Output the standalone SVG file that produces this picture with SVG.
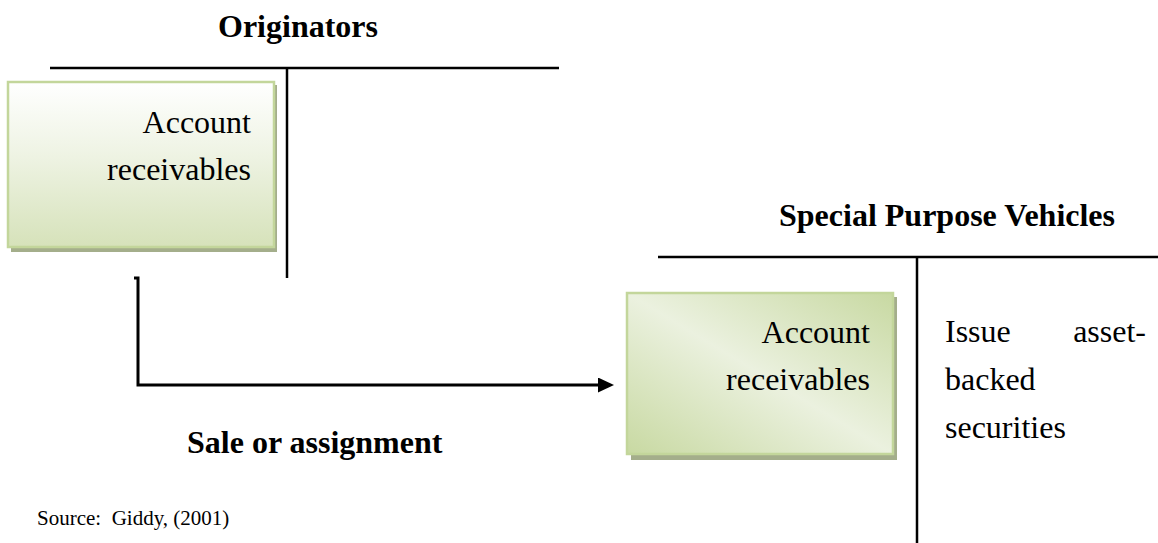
<svg xmlns="http://www.w3.org/2000/svg" width="1158" height="543" viewBox="0 0 1158 543">
  <style>
    .head { font-family: "Liberation Serif", "Times New Roman", serif; font-size: 32px; font-weight: bold; fill: #000; }
    .body { font-family: "Liberation Serif", "Times New Roman", serif; font-size: 32px; fill: #000; }
    .note { font-family: "Liberation Serif", "Times New Roman", serif; font-size: 21px; fill: #000; }
    .rule { stroke: #000; stroke-width: 2.5; fill: none; }
    .box { stroke: #c3d69b; stroke-width: 2.5; }
    .shadow { fill: #a4ae8b; }
    .link { stroke: #000; stroke-width: 3; fill: none; }
  </style>
  <defs>
    <linearGradient id="fillTop" x1="0" y1="0" x2="0" y2="1">
      <stop offset="0" stop-color="#ffffff"/>
      <stop offset="0.45" stop-color="#eef3e3"/>
      <stop offset="1" stop-color="#d6e2ba"/>
    </linearGradient>
    <linearGradient id="fillDiag" x1="0" y1="1" x2="1" y2="0">
      <stop offset="0" stop-color="#c8d9a2"/>
      <stop offset="0.5" stop-color="#ebf1df"/>
      <stop offset="1" stop-color="#c8d9a2"/>
    </linearGradient>
    <marker id="arrow" markerWidth="16" markerHeight="16" refX="0" refY="7.5" orient="auto" markerUnits="userSpaceOnUse">
      <path d="M0,0 L16,7.5 L0,15 Z" fill="#000"/>
    </marker>
  </defs>

  <!-- Originators ledger -->
  <g id="originators">
    <text class="head" x="298" y="37" text-anchor="middle">Originators</text>
    <line class="rule" x1="50" y1="68" x2="559" y2="68"/>
    <line class="rule" x1="287" y1="68" x2="287" y2="278"/>
  </g>

  <g id="originator-receivables">
    <rect class="shadow" x="11" y="85" width="266" height="167"/>
    <rect class="box" x="8" y="82" width="266" height="165" fill="url(#fillTop)"/>
    <text class="body" x="251" y="133" text-anchor="end">Account</text>
    <text class="body" x="251" y="180" text-anchor="end">receivables</text>
  </g>

  <!-- Special purpose vehicle ledger -->
  <g id="spv">
    <text class="head" x="779" y="226">Special Purpose Vehicles</text>
    <line class="rule" x1="658" y1="257" x2="1158" y2="257"/>
    <line class="rule" x1="917" y1="257" x2="917" y2="543"/>
  </g>

  <g id="spv-receivables">
    <rect class="shadow" x="631" y="297" width="266" height="163"/>
    <rect class="box" x="627" y="293" width="266" height="161" fill="url(#fillDiag)"/>
    <text class="body" x="870" y="343" text-anchor="end">Account</text>
    <text class="body" x="870" y="390" text-anchor="end">receivables</text>
  </g>

  <g id="spv-issue">
    <text class="body" x="945" y="342">Issue</text>
    <text class="body" x="1146" y="342" text-anchor="end">asset-</text>
    <text class="body" x="945" y="390">backed</text>
    <text class="body" x="945" y="438">securities</text>
  </g>

  <!-- Transfer of receivables -->
  <g id="connectors">
    <path class="link" d="M134,278 L138,278 L138,385 L598,385" marker-end="url(#arrow)"/>
  </g>

  <g id="transfer-label">
    <text class="head" x="187" y="453">Sale or assignment</text>
  </g>

  <g id="source">
    <text class="note" x="37" y="525" xml:space="preserve">Source:  Giddy, (2001)</text>
  </g>
</svg>
